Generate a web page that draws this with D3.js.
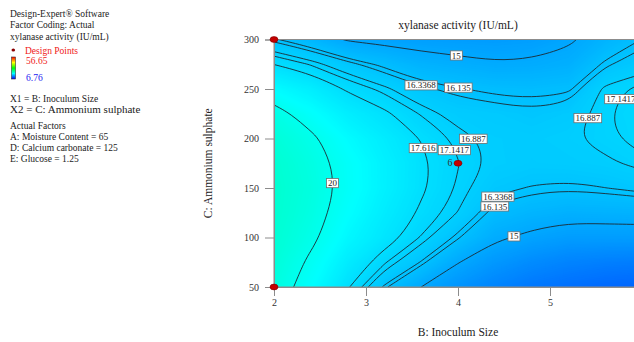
<!DOCTYPE html>
<html>
<head>
<meta charset="utf-8">
<script src="https://cdn.jsdelivr.net/npm/d3@7"></script>
<style>
  html, body { margin: 0; padding: 0; background: #ffffff; }
  svg { display: block; }
</style>
</head>
<body>
<svg id="chart" width="634" height="342"></svg>
<script>
// ---- Factor grid (B: Inoculum Size across, C: Ammonium sulphate up) ----
const inoculumSize = [2.0, 2.4, 2.8, 3.2, 3.6, 4.0, 4.4, 4.8, 5.2, 5.6, 6.0];
const ammoniumSulphate = [50, 75, 100, 125, 150, 175, 200, 225, 250, 275, 300];

// Predicted xylanase activity (IU/mL); one row per ammonium sulphate level
const activity = [
  [20.8, 19.3, 17.7, 16.25, 15.0, 14.0, 13.2, 12.6, 12.2, 11.9, 11.7],
  [21.1, 19.75, 18.3, 17.2, 16.3, 15.05, 14.2, 13.6, 13.2, 13.0, 12.9],
  [21.35, 20.3, 18.9, 18.0, 17.1, 16.2, 15.2, 14.75, 14.45, 14.45, 14.45],
  [21.5, 20.6, 19.3, 18.3, 17.5, 16.87, 15.95, 15.6, 15.4, 15.45, 15.5],
  [21.55, 20.75, 19.55, 18.55, 17.72, 17.08, 16.5, 16.3, 16.22, 16.33, 16.5],
  [21.45, 20.6, 19.5, 18.55, 17.75, 17.16, 16.78, 16.65, 16.7, 16.8, 17.02],
  [21.1, 20.25, 19.1, 18.3, 17.58, 17.03, 16.75, 16.7, 16.82, 17.05, 17.3],
  [20.5, 19.4, 18.4, 17.75, 17.1, 16.7, 16.6, 16.45, 16.6, 17.1, 17.35],
  [19.1, 18.4, 17.5, 17.0, 16.45, 16.18, 16.0, 15.95, 16.05, 17.0, 17.25],
  [17.6, 17.1, 16.5, 16.0, 15.5, 15.3, 15.1, 15.15, 15.35, 16.25, 16.65],
  [16.2, 15.7, 14.9, 14.7, 14.55, 14.45, 14.4, 14.5, 14.85, 15.55, 16.15]
];

const contourLevels = [15, 16.135, 16.3368, 16.887, 17.1417, 17.616, 20];

// Where each contour value is written (B, C)
const contourLabelLevels = [15, 16.3368, 16.135, 16.887, 17.616, 17.1417, 17.1417, 16.887, 20, 16.3368, 16.135, 15];
const contourLabelB      = [3.98, 3.60, 4.00, 4.23, 3.64, 4.02, 5.73, 5.40, 2.66, 4.43, 4.40, 4.60];
const contourLabelC      = [283, 254, 251, 205, 191, 191, 242, 221, 155, 142, 131, 103];

// Design points (B, C, replicate count)
const designB = [2, 2, 4];
const designC = [300, 50, 175];
const designN = [1, 1, 6];

const responseRange = [6.76, 56.65];
const xTicks = [2, 3, 4, 5];
const yTicks = [50, 100, 150, 200, 250, 300];

// ---- Layout ----
const serif = '"Liberation Serif", "Times New Roman", Times, serif';
const svg = d3.select("#chart").attr("font-family", serif);

const x = d3.scaleLinear().domain(d3.extent(inoculumSize)).range([274, 642]);
const y = d3.scaleLinear().domain(d3.extent(ammoniumSulphate)).range([287, 39.5]);

const nx = inoculumSize.length, ny = ammoniumSulphate.length;
// d3.contours places value k at grid coordinate k + 0.5
const gridX = d3.scaleLinear().domain([0.5, nx - 0.5]).range(d3.extent(inoculumSize));
const gridY = d3.scaleLinear().domain([0.5, ny - 0.5]).range(d3.extent(ammoniumSulphate));
const values = activity.flat();

// Design-Expert style ramp: blue -> cyan -> green -> yellow -> red
const rampColors = ["#0000ff", "#00ffff", "#00ff00", "#ffff00", "#ff0000"];
const color = d3.scaleLinear()
  .domain(rampColors.map((_, i) => responseRange[0] + i * (responseRange[1] - responseRange[0]) / (rampColors.length - 1)))
  .range(rampColors);

const defs = svg.append("defs");
defs.append("clipPath").attr("id", "plot-clip")
  .append("rect")
  .attr("x", x.range()[0]).attr("y", y.range()[1])
  .attr("width", x.range()[1] - x.range()[0])
  .attr("height", y.range()[0] - y.range()[1]);

const project = d3.geoPath(d3.geoTransform({
  point: function (gx, gy) { this.stream.point(x(gridX(gx)), y(gridY(gy))); }
}));

// ---- Response surface fill ----
const surface = svg.append("g").attr("clip-path", "url(#plot-clip)");
const vMin = d3.min(values), vMax = d3.max(values);
surface.append("rect")
  .attr("x", x.range()[0]).attr("y", y.range()[1])
  .attr("width", x.range()[1] - x.range()[0])
  .attr("height", y.range()[0] - y.range()[1])
  .attr("fill", color(vMin));
const bandStep = 0.08;
const bandThresholds = d3.range(Math.floor(vMin * 10) / 10, vMax + bandStep, bandStep);
const bands = d3.contours().size([nx, ny]).thresholds(bandThresholds)(values);
surface.selectAll("path.band")
  .data(bands)
  .join("path")
  .attr("class", "band")
  .attr("d", project)
  .attr("fill", d => color(d.value + bandStep / 2));

// ---- Contour lines ----
const [bLo, bHi] = x.domain(), [cLo, cHi] = y.domain();
const eps = 1e-6;
function insidePlot(p) {
  return p.b >= bLo - eps && p.b <= bHi + eps && p.c >= cLo - eps && p.c <= cHi + eps;
}
// Split a contour ring into the open isolines lying inside the plot
function ringToLines(ring) {
  const pts = ring.slice(0, -1).map(([gx, gy]) => ({ b: gridX(gx), c: gridY(gy) }));
  pts.forEach(p => { p.inside = insidePlot(p); });
  const start = pts.findIndex(p => !p.inside);
  if (start < 0) return [{ closed: true, pts }];
  const runs = [];
  let cur = [];
  for (let k = 1; k <= pts.length; k++) {
    const p = pts[(start + k) % pts.length];
    if (p.inside) cur.push(p);
    else { if (cur.length > 1) runs.push({ closed: false, pts: cur }); cur = []; }
  }
  if (cur.length > 1) runs.push({ closed: false, pts: cur });
  return runs;
}

const isoLines = [];
contourLevels.forEach(level => {
  const geom = d3.contours().size([nx, ny]).thresholds([level])(values)[0];
  geom.coordinates.forEach(poly => poly.forEach(ring => {
    ringToLines(ring).forEach(run => isoLines.push({ level, ...run }));
  }));
});

const openLine = d3.line().x(p => x(p.b)).y(p => y(p.c)).curve(d3.curveBasis);
const closedLine = d3.line().x(p => x(p.b)).y(p => y(p.c)).curve(d3.curveBasisClosed);

const lineLayer = svg.append("g").attr("clip-path", "url(#plot-clip)");
const linePaths = lineLayer.selectAll("path.iso")
  .data(isoLines)
  .join("path")
  .attr("class", "iso")
  .attr("d", d => (d.closed ? closedLine : openLine)(d.pts))
  .attr("fill", "none")
  .attr("stroke", "#1c2a33")
  .attr("stroke-width", 0.9);

// ---- Contour value labels, placed on the nearest point of their line ----
const labelLayer = svg.append("g");
contourLabelLevels.forEach((level, i) => {
  const hx = x(contourLabelB[i]), hy = y(contourLabelC[i]);
  let best = null, bestD = Infinity;
  linePaths.filter(d => d.level === level).each(function () {
    const len = this.getTotalLength();
    for (let s = 0; s <= len; s += 0.5) {
      const p = this.getPointAtLength(s);
      const dd = (p.x - hx) ** 2 + (p.y - hy) ** 2;
      if (dd < bestD) { bestD = dd; best = p; }
    }
  });
  if (!best) best = { x: hx, y: hy };
  const g = labelLayer.append("g").attr("transform", `translate(${best.x},${best.y})`);
  const rect = g.append("rect");
  const t = g.append("text")
    .attr("text-anchor", "middle")
    .attr("dy", "0.34em")
    .attr("font-size", 9)
    .attr("fill", "#222")
    .text(String(level));
  const w = t.node().getComputedTextLength() + 3;
  rect.attr("x", -w / 2).attr("y", -4.6).attr("width", w).attr("height", 9.2)
    .attr("fill", "#ffffff").attr("stroke", "#6e6e6e").attr("stroke-width", 0.8);
});

// ---- Frame and axes ----
svg.append("rect")
  .attr("x", x.range()[0]).attr("y", y.range()[1])
  .attr("width", x.range()[1] - x.range()[0])
  .attr("height", y.range()[0] - y.range()[1])
  .attr("fill", "none").attr("stroke", "#8c8c8c").attr("stroke-width", 1);

const yAxis = svg.append("g")
  .attr("transform", `translate(${x.range()[0]},0)`)
  .call(d3.axisLeft(y).tickValues(yTicks).tickSize(9).tickPadding(6).tickFormat(d3.format("d")));
const xAxis = svg.append("g")
  .attr("transform", `translate(0,${y.range()[0]})`)
  .call(d3.axisBottom(x).tickValues(xTicks).tickSize(9).tickPadding(3).tickFormat(d3.format("d")));
[yAxis, xAxis].forEach(ax => {
  ax.attr("font-family", serif).attr("font-size", 10);
  ax.select(".domain").attr("stroke", "#8c8c8c");
  ax.selectAll(".tick line").attr("stroke", "#8c8c8c");
  ax.selectAll(".tick text").attr("fill", "#333");
});

const xMid = (x.range()[0] + x.range()[1]) / 2;
const yMid = (y.range()[0] + y.range()[1]) / 2;
svg.append("text").attr("x", xMid).attr("y", 29).attr("text-anchor", "middle")
  .attr("font-size", 11.5).attr("fill", "#222").text("xylanase activity (IU/mL)");
svg.append("text").attr("x", xMid).attr("y", 336).attr("text-anchor", "middle")
  .attr("font-size", 11.5).attr("fill", "#222").text("B: Inoculum Size");
svg.append("text").attr("transform", `translate(212,${yMid}) rotate(-90)`).attr("text-anchor", "middle")
  .attr("font-size", 11.5).attr("fill", "#222").text("C: Ammonium sulphate");

// ---- Design points ----
const pts = svg.append("g");
designB.forEach((b, i) => {
  pts.append("ellipse")
    .attr("cx", x(b)).attr("cy", y(designC[i]))
    .attr("rx", 4).attr("ry", 2.9)
    .attr("fill", "#c40000").attr("stroke", "#7a0000").attr("stroke-width", 0.6);
  if (designN[i] > 1) {
    pts.append("text")
      .attr("x", x(b) - 5.5).attr("y", y(designC[i]) + 3)
      .attr("text-anchor", "end").attr("font-size", 10).attr("fill", "#333")
      .text(designN[i]);
  }
});

// ---- Side panel ----
const panel = svg.append("g").attr("fill", "#222");
const panelText = (txt, yy, size, fill) =>
  panel.append("text").attr("x", 10).attr("y", yy).attr("font-size", size)
    .attr("fill", fill || "#222").text(txt);
panelText("Design-Expert\u00ae Software", 17, 9.5);
panelText("Factor Coding: Actual", 28, 9.5);
panelText("xylanase activity (IU/mL)", 39.5, 9.5);

panel.append("ellipse").attr("cx", 13.3).attr("cy", 50).attr("rx", 1.8).attr("ry", 1.6)
  .attr("fill", "#8a0000");
panel.append("text").attr("x", 25).attr("y", 54).attr("font-size", 9.5).attr("fill", "#f01818")
  .text("Design Points");

const grad = defs.append("linearGradient").attr("id", "ramp")
  .attr("x1", 0).attr("y1", 1).attr("x2", 0).attr("y2", 0);
rampColors.forEach((c, i) => grad.append("stop")
  .attr("offset", i / (rampColors.length - 1)).attr("stop-color", c));
panel.append("rect").attr("x", 11.5).attr("y", 57).attr("width", 4).attr("height", 22)
  .attr("fill", "url(#ramp)").attr("stroke", "#333").attr("stroke-width", 0.6);
panel.append("text").attr("x", 26).attr("y", 64).attr("font-size", 9.5).attr("fill", "#f01818")
  .text(String(responseRange[1]));
panel.append("text").attr("x", 26).attr("y", 81).attr("font-size", 9.5).attr("fill", "#2020f0")
  .text(String(responseRange[0]));

panelText("X1 = B: Inoculum Size", 101.5, 9.5);
panelText("X2 = C: Ammonium sulphate", 112.5, 11);
panelText("Actual Factors", 129, 9.5);
panelText("A: Moisture Content = 65", 140, 9.5);
panelText("D: Calcium carbonate = 125", 150.5, 9.5);
panelText("E: Glucose = 1.25", 161.5, 9.5);
</script>
</body>
</html>
